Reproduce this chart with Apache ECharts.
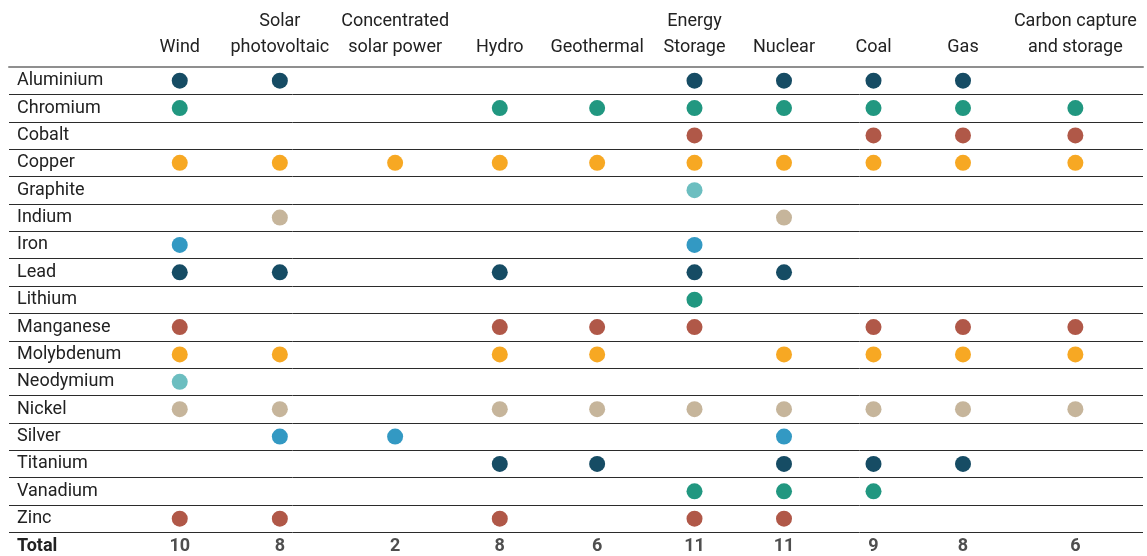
<!DOCTYPE html>
<html><head><meta charset="utf-8">
<script src="https://cdn.jsdelivr.net/npm/echarts@6/dist/echarts.min.js"></script>
<style>html,body{margin:0;padding:0;background:#fff}#c{width:1147px;height:556px}</style>
</head><body><div id="c"></div>
<script>
// ---------- DATA ----------
const technologies = ['Wind', 'Solar\nphotovoltaic', 'Concentrated\nsolar power', 'Hydro', 'Geothermal',
  'Energy\nStorage', 'Nuclear', 'Coal', 'Gas', 'Carbon capture\nand storage'];
const minerals = ['Aluminium', 'Chromium', 'Cobalt', 'Copper', 'Graphite', 'Indium', 'Iron', 'Lead', 'Lithium',
  'Manganese', 'Molybdenum', 'Neodymium', 'Nickel', 'Silver', 'Titanium', 'Vanadium', 'Zinc'];
// 1 = mineral used by technology (same order as technologies)
const aluminium  = [1,1,0,0,0,1,1,1,1,0];
const chromium   = [1,0,0,1,1,1,1,1,1,1];
const cobalt     = [0,0,0,0,0,1,0,1,1,1];
const copper     = [1,1,1,1,1,1,1,1,1,1];
const graphite   = [0,0,0,0,0,1,0,0,0,0];
const indium     = [0,1,0,0,0,0,1,0,0,0];
const iron       = [1,0,0,0,0,1,0,0,0,0];
const lead       = [1,1,0,1,0,1,1,0,0,0];
const lithium    = [0,0,0,0,0,1,0,0,0,0];
const manganese  = [1,0,0,1,1,1,0,1,1,1];
const molybdenum = [1,1,0,1,1,0,1,1,1,1];
const neodymium  = [1,0,0,0,0,0,0,0,0,0];
const nickel     = [1,1,0,1,1,1,1,1,1,1];
const silver     = [0,1,1,0,0,0,1,0,0,0];
const titanium   = [0,0,0,1,1,0,1,1,1,0];
const vanadium   = [0,0,0,0,0,1,1,1,0,0];
const zinc       = [1,1,0,1,0,1,1,0,0,0];
const usage = [aluminium, chromium, cobalt, copper, graphite, indium, iron, lead, lithium,
  manganese, molybdenum, neodymium, nickel, silver, titanium, vanadium, zinc];
const totals = [10, 8, 2, 8, 6, 11, 11, 9, 8, 6];
const totalLabel = 'Total';

// ---------- STYLE / LAYOUT ----------
const palette = ['#164c64', '#219780', '#b05848', '#f7a823', '#6cbec0', '#c6b59b', '#3399c3'];
const FONT = 'Roboto, "Noto Sans", sans-serif';
const HEAD_SIZE = 18, BODY_SIZE = 18;
const TABLE_LEFT = 9, TABLE_RIGHT = 1143;
const LABEL_COL = 126, MIN_COL = 88, COL_PAD = 10;
const HEADER_BOTTOM = 67, ROW_H = 27.375;

// column widths like an auto-layout table: driven by header text width
const ctx = document.createElement('canvas').getContext('2d');
ctx.font = HEAD_SIZE + 'px ' + FONT;
const natural = technologies.map(t => Math.max(MIN_COL, Math.max(...t.split('\n').map(s => ctx.measureText(s).width)) + COL_PAD));
const avail = TABLE_RIGHT - TABLE_LEFT - LABEL_COL;
const scale = avail / natural.reduce((a, b) => a + b, 0);
const widths = natural.map(w => w * scale);
const centers = [];
{ let acc = LABEL_COL; widths.forEach(w => { centers.push(acc + w / 2); acc += w; }); }
const W = TABLE_RIGHT - TABLE_LEFT;

const rows = minerals.concat([totalLabel]);

const dots = [];
usage.forEach((arr, r) => arr.forEach((v, c) => {
  if (v) dots.push({ value: [centers[c], minerals[r]], itemStyle: { color: palette[r % palette.length], opacity: 1 } });
}));
const totalPts = totals.map((t, c) => ({ value: [centers[c], totalLabel, t] }));

const chart = echarts.init(document.getElementById('c'));
chart.setOption({
  animation: false,
  textStyle: { fontFamily: FONT },
  grid: { left: TABLE_LEFT, top: HEADER_BOTTOM, width: W, height: ROW_H * rows.length, outerBoundsMode: 'none', containLabel: false },
  xAxis: {
    type: 'value', position: 'top', min: 0, max: W, z: 5,
    axisLine: { show: true, lineStyle: { color: '#8f8f8f', width: 2 } },
    axisTick: { show: false }, splitLine: { show: false },
    axisLabel: {
      customValues: centers, margin: 7, color: '#222', fontSize: HEAD_SIZE, lineHeight: 26,
      fontFamily: FONT, align: 'center',
      formatter: v => { let i = 0, d = Infinity; centers.forEach((c, k) => { if (Math.abs(c - v) < d) { d = Math.abs(c - v); i = k; } }); return technologies[i]; }
    }
  },
  yAxis: {
    type: 'category', data: rows, inverse: true,
    axisLine: { show: false }, axisTick: { show: false },
    splitLine: { show: true, lineStyle: { color: '#2b2b2b', width: 1 } },
    axisLabel: {
      inside: true, margin: 8, color: '#222', fontSize: BODY_SIZE, fontFamily: FONT, align: 'left',
      formatter: v => v === totalLabel ? '{b|' + v + '}' : v,
      rich: { b: { fontWeight: 'bold', fontSize: BODY_SIZE, color: '#222', fontFamily: FONT } }
    }
  },
  series: [
    { type: 'scatter', data: dots, symbolSize: 16, z: 3, itemStyle: { opacity: 1 } },
    { type: 'scatter', data: totalPts, symbolSize: 0, z: 3,
      label: { show: true, position: 'inside', formatter: p => p.value[2], fontWeight: 'bold',
        fontSize: BODY_SIZE, color: '#222', fontFamily: FONT } }
  ]
});
</script></body></html>
